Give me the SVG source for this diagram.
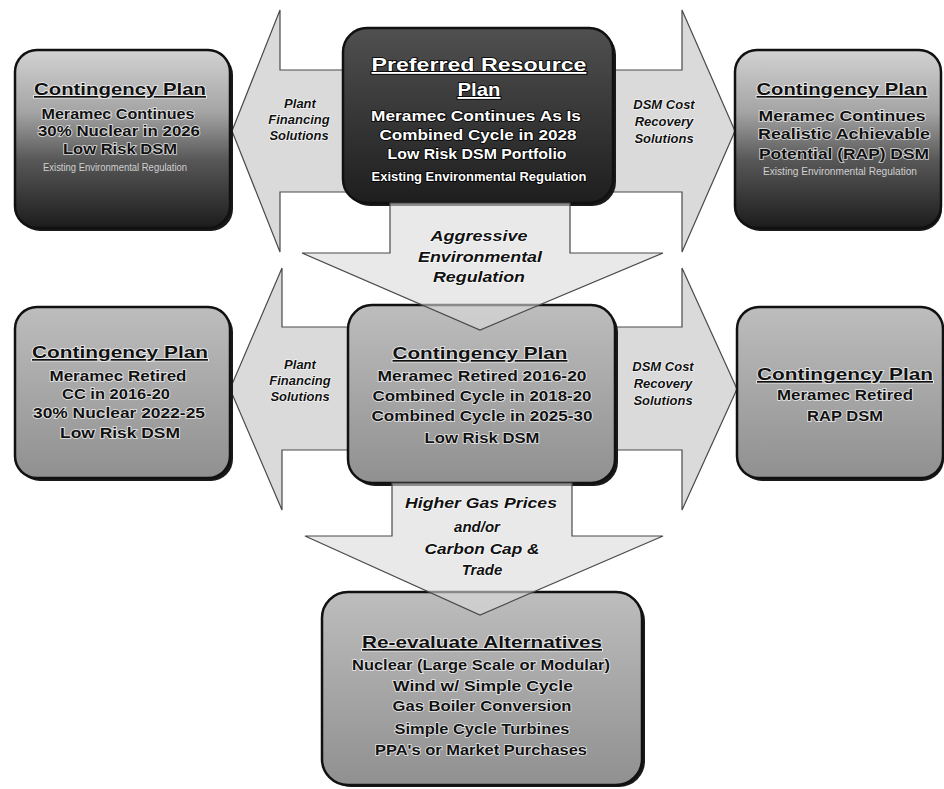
<svg xmlns="http://www.w3.org/2000/svg" width="944" height="789" viewBox="0 0 944 789">
<defs>
<linearGradient id="gSide" x1="0" y1="0" x2="0" y2="1">
<stop offset="0" stop-color="#d2d2d2"/><stop offset="0.35" stop-color="#a4a4a4"/><stop offset="0.62" stop-color="#575757"/><stop offset="1" stop-color="#1c1c1c"/>
</linearGradient>
<linearGradient id="gDark" x1="0" y1="0" x2="0" y2="1">
<stop offset="0" stop-color="#505050"/><stop offset="1" stop-color="#1e1e1e"/>
</linearGradient>
<linearGradient id="gMid" x1="0" y1="0" x2="0" y2="1">
<stop offset="0" stop-color="#bdbdbd"/><stop offset="1" stop-color="#909090"/>
</linearGradient>
<style>
.arrow{fill:#dadada;stroke:#4a4a4a;stroke-width:1.2;stroke-linejoin:miter}
.arrowT{fill:#dadada;fill-opacity:0.6;stroke:#4a4a4a;stroke-width:1.2}
.box{stroke:#111;stroke-width:2.5}
.shadow{fill:#1a1a1a}
text{font-family:"Liberation Sans",Arial,sans-serif;font-weight:bold;text-anchor:middle}
.dk{fill:#111;stroke:#fff;stroke-width:1.6;paint-order:stroke;stroke-opacity:0.75}
.wt{fill:#fff;stroke:#000;stroke-width:1.6;paint-order:stroke}
.sm{fill:#d0d0d0;font-size:10px;font-weight:normal}
.ttl{font-size:17px;text-decoration:underline}
.ln{font-size:15px}
.lab{font-size:13px;font-style:italic;fill:#111;stroke:#fff;stroke-width:1.2;paint-order:stroke}
</style>
</defs>
<rect width="944" height="789" fill="#fff"/>

<g id="connectors">
<polygon id="arrow-tl" class="arrow" points="232,131 280,10 280,70 350,70 350,192 280,192 280,252"/>
<polygon id="arrow-tr" class="arrow" points="735,131 682,10 682,70 606,70 606,192 682,192 682,252"/>
<polygon id="arrow-ml" class="arrow" points="230,389 282,268 282,327 355,327 355,450 282,450 282,510"/>
<polygon id="arrow-mr" class="arrow" points="737,389 682,268 682,327 610,327 610,450 682,450 682,510"/>
</g>

<g id="node-tl">
<rect class="shadow" x="18" y="53" width="215" height="178" rx="22"/>
<rect class="box" x="15" y="50" width="215" height="178" rx="22" fill="url(#gSide)"/>
<text class="dk ttl" x="120" y="95" textLength="172" lengthAdjust="spacingAndGlyphs">Contingency Plan</text>
<text class="dk ln" x="118" y="119" textLength="153" lengthAdjust="spacingAndGlyphs">Meramec Continues</text>
<text class="dk ln" x="119" y="136" textLength="162" lengthAdjust="spacingAndGlyphs">30% Nuclear in 2026</text>
<text class="dk ln" x="120" y="154" textLength="114" lengthAdjust="spacingAndGlyphs">Low Risk DSM</text>
<text class="sm" x="115" y="171" textLength="144" lengthAdjust="spacingAndGlyphs">Existing Environmental Regulation</text>
</g>

<g id="node-tc">
<rect class="shadow" x="346" y="31" width="270" height="175" rx="24"/>
<rect class="box" x="343" y="28" width="270" height="175" rx="24" fill="url(#gDark)"/>
<text class="wt ttl" x="479" y="71" style="font-size:19px" textLength="215" lengthAdjust="spacingAndGlyphs">Preferred Resource</text>
<text class="wt ttl" x="479" y="96" style="font-size:19px" textLength="43" lengthAdjust="spacingAndGlyphs">Plan</text>
<text class="wt ln" x="476" y="121" textLength="210" lengthAdjust="spacingAndGlyphs">Meramec Continues As Is</text>
<text class="wt ln" x="478" y="140" textLength="197" lengthAdjust="spacingAndGlyphs">Combined Cycle in 2028</text>
<text class="wt ln" x="477" y="159" textLength="179" lengthAdjust="spacingAndGlyphs">Low Risk DSM Portfolio</text>
<text class="wt" x="479" y="181" style="font-size:12px" textLength="215" lengthAdjust="spacingAndGlyphs">Existing Environmental Regulation</text>
</g>

<g id="node-tr">
<rect class="shadow" x="738" y="53" width="204" height="178" rx="22"/>
<rect class="box" x="735" y="50" width="206" height="178" rx="22" fill="url(#gSide)"/>
<text class="dk ttl" x="842" y="95" textLength="171" lengthAdjust="spacingAndGlyphs">Contingency Plan</text>
<text class="dk ln" x="842" y="121" textLength="167" lengthAdjust="spacingAndGlyphs">Meramec Continues</text>
<text class="dk ln" x="844" y="139" textLength="172" lengthAdjust="spacingAndGlyphs">Realistic Achievable</text>
<text class="dk ln" x="844" y="159" textLength="170" lengthAdjust="spacingAndGlyphs">Potential (RAP) DSM</text>
<text class="sm" x="840" y="175" textLength="154" lengthAdjust="spacingAndGlyphs">Existing Environmental Regulation</text>
</g>

<g id="node-ml">
<rect class="shadow" x="18" y="310" width="215" height="171" rx="22"/>
<rect class="box" x="15" y="307" width="215" height="171" rx="22" fill="url(#gMid)"/>
<text class="dk ttl" x="120" y="358" textLength="176" lengthAdjust="spacingAndGlyphs">Contingency Plan</text>
<text class="dk ln" x="118" y="381" textLength="137" lengthAdjust="spacingAndGlyphs">Meramec Retired</text>
<text class="dk ln" x="116" y="399" textLength="108" lengthAdjust="spacingAndGlyphs">CC in 2016-20</text>
<text class="dk ln" x="119" y="418" textLength="172" lengthAdjust="spacingAndGlyphs">30% Nuclear 2022-25</text>
<text class="dk ln" x="120" y="438" textLength="120" lengthAdjust="spacingAndGlyphs">Low Risk DSM</text>
</g>

<g id="node-mc">
<rect class="shadow" x="351" y="308" width="267" height="178" rx="24"/>
<rect class="box" x="348" y="305" width="267" height="178" rx="24" fill="url(#gMid)"/>
<text class="dk ttl" x="480" y="359" textLength="175" lengthAdjust="spacingAndGlyphs">Contingency Plan</text>
<text class="dk ln" x="482" y="381" textLength="209" lengthAdjust="spacingAndGlyphs">Meramec Retired 2016-20</text>
<text class="dk ln" x="482" y="401" textLength="219" lengthAdjust="spacingAndGlyphs">Combined Cycle in 2018-20</text>
<text class="dk ln" x="482" y="421" textLength="221" lengthAdjust="spacingAndGlyphs">Combined Cycle in 2025-30</text>
<text class="dk ln" x="482" y="443" textLength="115" lengthAdjust="spacingAndGlyphs">Low Risk DSM</text>
</g>

<g id="node-mr">
<rect class="shadow" x="740" y="310" width="204" height="171" rx="22"/>
<rect class="box" x="737" y="307" width="206" height="171" rx="22" fill="url(#gMid)"/>
<text class="dk ttl" x="845" y="380" textLength="176" lengthAdjust="spacingAndGlyphs">Contingency Plan</text>
<text class="dk ln" x="845" y="400" textLength="136" lengthAdjust="spacingAndGlyphs">Meramec Retired</text>
<text class="dk ln" x="845" y="421" textLength="76" lengthAdjust="spacingAndGlyphs">RAP DSM</text>
</g>

<g id="node-bottom">
<rect class="shadow" x="325" y="595" width="320" height="192" rx="26"/>
<rect class="box" x="322" y="592" width="320" height="193" rx="26" fill="url(#gMid)"/>
<text class="dk ttl" x="482" y="648" textLength="240" lengthAdjust="spacingAndGlyphs">Re-evaluate Alternatives</text>
<text class="dk ln" x="481" y="670" textLength="258" lengthAdjust="spacingAndGlyphs">Nuclear (Large Scale or Modular)</text>
<text class="dk ln" x="483" y="691" textLength="180" lengthAdjust="spacingAndGlyphs">Wind w/ Simple Cycle</text>
<text class="dk ln" x="482" y="711" textLength="179" lengthAdjust="spacingAndGlyphs">Gas Boiler Conversion</text>
<text class="dk ln" x="482" y="734" textLength="175" lengthAdjust="spacingAndGlyphs">Simple Cycle Turbines</text>
<text class="dk ln" x="481" y="755" textLength="212" lengthAdjust="spacingAndGlyphs">PPA's or Market Purchases</text>
</g>

<g id="connectors-down">
<polygon id="arrow-down1" class="arrowT" points="390,203 570,203 570,253 663,253 480,330 302,253 390,253"/>
<polygon id="arrow-down2" class="arrowT" points="392,483 572,483 572,536 663,536 480,615 305,536 392,536"/>
</g>

<g id="labels">
<text class="lab" x="300" y="108">Plant</text>
<text class="lab" x="299" y="124">Financing</text>
<text class="lab" x="299" y="140">Solutions</text>
<text class="lab" x="664" y="109">DSM Cost</text>
<text class="lab" x="664" y="126">Recovery</text>
<text class="lab" x="664" y="143">Solutions</text>
<text class="lab" x="300" y="369">Plant</text>
<text class="lab" x="300" y="385">Financing</text>
<text class="lab" x="300" y="401">Solutions</text>
<text class="lab" x="663" y="371">DSM Cost</text>
<text class="lab" x="663" y="388">Recovery</text>
<text class="lab" x="663" y="405">Solutions</text>
<text class="lab" x="479" y="241" style="font-size:15px" textLength="97" lengthAdjust="spacingAndGlyphs">Aggressive</text>
<text class="lab" x="480" y="262" style="font-size:15px" textLength="124" lengthAdjust="spacingAndGlyphs">Environmental</text>
<text class="lab" x="479" y="282" style="font-size:15px" textLength="92" lengthAdjust="spacingAndGlyphs">Regulation</text>
<text class="lab" x="481" y="508" style="font-size:15px" textLength="152" lengthAdjust="spacingAndGlyphs">Higher Gas Prices</text>
<text class="lab" x="477" y="532" style="font-size:15px">and/or</text>
<text class="lab" x="482" y="554" style="font-size:15px" textLength="115" lengthAdjust="spacingAndGlyphs">Carbon Cap &amp;</text>
<text class="lab" x="482" y="575" style="font-size:15px">Trade</text>
</g>
</svg>
